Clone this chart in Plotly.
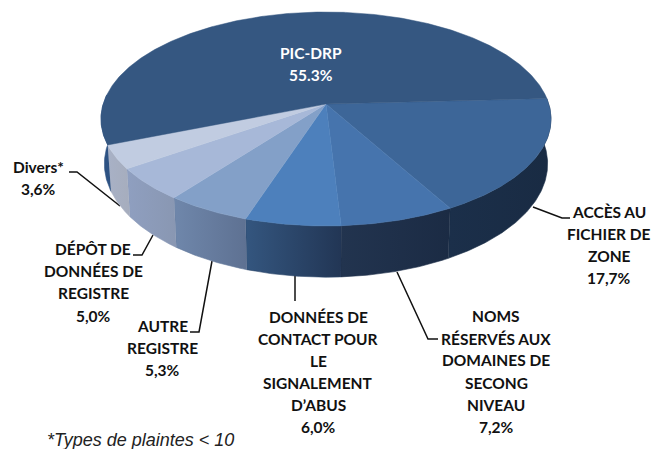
import math
import plotly.graph_objects as go

# ---- data ----
categories = ["ACCÈS AU FICHIER DE ZONE", "NOMS RÉSERVÉS AUX DOMAINES DE SECONG NIVEAU",
              "DONNÉES DE CONTACT POUR LE SIGNALEMENT D’ABUS", "AUTRE REGISTRE",
              "DÉPÔT DE DONNÉES DE REGISTRE", "Divers*", "PIC-DRP"]
values = [17.7, 7.2, 6.0, 5.3, 5.0, 3.6, 55.3]
top_colors = ["#3D6698", "#4674AD", "#4D80BC", "#83A0C8", "#A7B8D8", "#C1CCE1", "#355781"]
wall_left = ["#1B2F4A", "#22344F", "#34567F", "#6F87AB", "#8F9FC0", "#A8B1C6", "#2D5283"]
wall_right = ["#192B43", "#1B2B44", "#223655", "#5E7192", "#8997B2", "#A6ADBD", "#2D5283"]
wall_seam = ["#1A2D46", "#1F2F49", "#2B466A", "#667C9E", "#8C9BB9", "#A7AFC1", "#2D5283"]

# ---- projection of the pie disc ----
CX, CY, A, B, K, DEPTH, BOTTOM_SCALE = 326, 104, 222.8, 104.9, 0.14, 44, 0.985
START_DEG = -3.0


def project(deg, bottom=False):
    t = math.radians(deg)
    X, Y = math.cos(t), math.sin(t)
    s = 1 / (1 - K * Y)
    if bottom:
        return CX + A * X * s * BOTTOM_SCALE, CY + B * Y * s + DEPTH * s
    return CX + A * X * s, CY + B * Y * s


def arc(a0, a1, bottom=False):
    n = max(2, int(abs(a1 - a0)) * 2)
    pts = [project(a0 + (a1 - a0) * i / n, bottom) for i in range(n + 1)]
    return [p[0] for p in pts], [p[1] for p in pts]


fig = go.Figure()

# angles of every slice, clockwise from the right-hand side
bounds = [START_DEG]
for v in values[:-1]:
    bounds.append(bounds[-1] + v * 3.6)
bounds.append(START_DEG + 360)

# side walls (only the front of the disc is visible)
for i, v in enumerate(values):
    a0, a1 = bounds[i], bounds[i + 1]
    a1_wall = min(a1, 185)
    tx, ty = arc(a0, a1_wall)
    bx, by = arc(a0, a1_wall, True)
    fig.add_trace(go.Scatter(
        x=tx + bx[::-1], y=ty + by[::-1], mode="lines", fill="toself",
        line=dict(width=0.6, color=wall_seam[i]), hoverinfo="skip", showlegend=False,
        fillgradient=dict(type="horizontal",
                          colorscale=[[0, wall_left[i]], [1, wall_right[i]]])))

# top faces
for i, v in enumerate(values):
    ax, ay = arc(bounds[i], bounds[i + 1])
    fig.add_trace(go.Scatter(
        x=[CX] + ax + [CX], y=[CY] + ay + [CY], mode="lines", fill="toself",
        fillcolor=top_colors[i], line=dict(width=0.5, color=top_colors[i]),
        hoverinfo="skip", showlegend=False))

# ---- label layout ----
labels = [
    (["PIC-DRP", "55.3%"], 311, [53, 75], "#FFFFFF"),
    (["ACCÈS AU", "FICHIER DE", "ZONE", "17,7%"], 609, [212, 234, 256, 278], "#111111"),
    (["NOMS", "RÉSERVÉS AUX", "DOMAINES DE", "SECONG", "NIVEAU", "7,2%"], 496,
     [316, 339, 360, 383, 405, 427], "#111111"),
    (["DONNÉES DE", "CONTACT POUR", "LE", "SIGNALEMENT", "D’ABUS", "6,0%"], 318,
     [317, 339, 361, 383, 405, 427], "#111111"),
    (["AUTRE", "REGISTRE", "5,3%"], 162, [326, 348, 370], "#111111"),
    (["DÉPÔT DE", "DONNÉES DE", "REGISTRE", "5,0%"], 93, [249, 271, 293, 316], "#111111"),
    (["Divers*", "3,6%"], 38, [167, 189], "#111111"),
]
annotations = []
for lines, x, ys, col in labels:
    for line, y in zip(lines, ys):
        annotations.append(dict(x=x, y=y, text=f"<b>{line}</b>", showarrow=False,
                                xanchor="center", yanchor="middle", xref="x", yref="y",
                                font=dict(family="Lato", size=15.5, color=col)))
annotations.append(dict(x=45, y=440, text="<i>*Types de plaintes &lt; 10</i>", showarrow=False,
                        xanchor="left", yanchor="middle", xref="x", yref="y",
                        font=dict(family="Liberation Sans", size=18, color="#222222")))

leaders = [
    "M69,172 L77,172 L120,206",
    "M133,255 L142,255 L153,235",
    "M190,332 L199,332 L212,261",
    "M295,275 L295,301",
    "M397,272 L428,339 L438,339",
    "M533,207 L562,218 L570,218",
]
shapes = [dict(type="path", path=p, xref="x", yref="y",
               line=dict(color="#111111", width=1.5), layer="below") for p in leaders]

fig.update_layout(
    width=651, height=449, margin=dict(l=0, r=0, t=0, b=0),
    paper_bgcolor="#FFFFFF", plot_bgcolor="#FFFFFF", showlegend=False,
    xaxis=dict(range=[0, 651], visible=False, fixedrange=True),
    yaxis=dict(range=[449, 0], visible=False, fixedrange=True),
    annotations=annotations, shapes=shapes,
)
fig.write_html("out.html", config=dict(displayModeBar=False),
               post_script="document.body.style.margin='0';document.documentElement.style.overflow='hidden';")
